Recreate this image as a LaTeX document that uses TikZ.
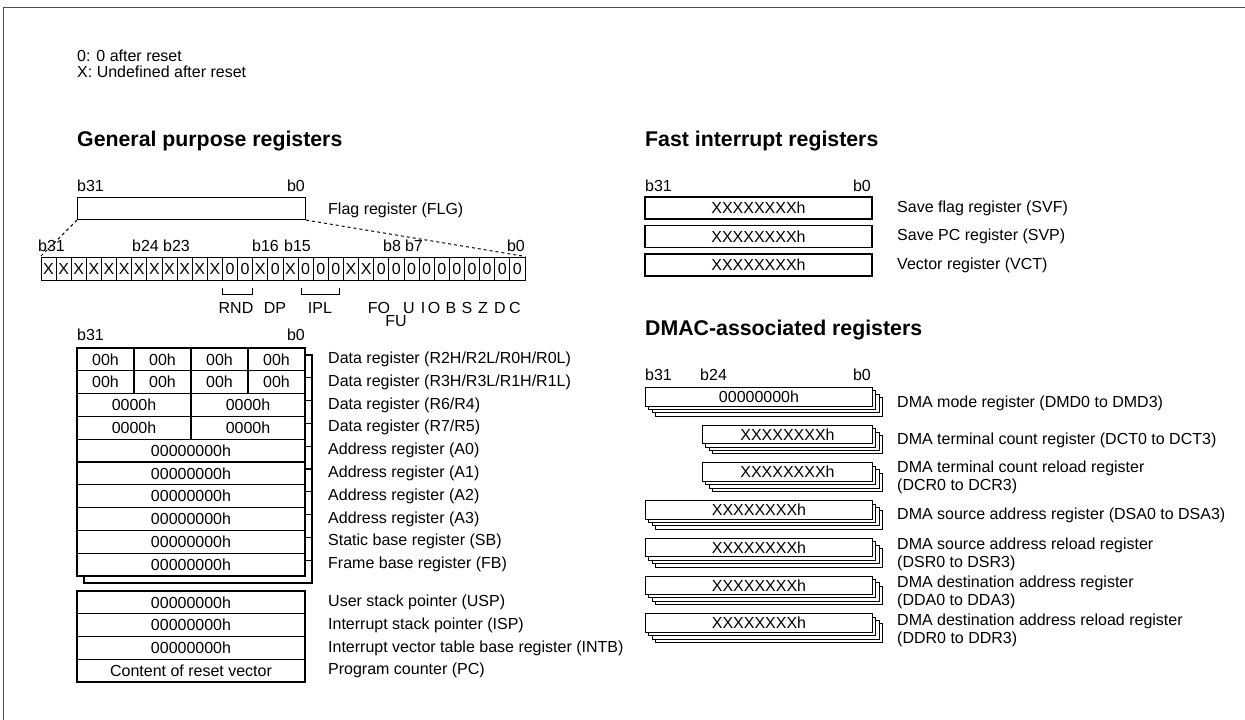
\documentclass[tikz,border=0pt]{standalone}
\usepackage{fontspec}
\setmainfont{Liberation Sans}

\def\rowh{22.8}
\def\bitw{15.125}

% one bank of general purpose registers (#2 = show values or not)
\newcommand{\gprbank}[2]{%
  \foreach \r in {0,1}
    \foreach \c in {0,...,3}
      \node[reg, minimum width=57pt] (#1b\r\c) at (77+57*\c+28.5, 348+\rowh*\r+\rowh/2) {#2{00h}};
  \foreach \r in {2,3}
    \foreach \c in {0,1}
      \node[reg, minimum width=114pt] (#1w\r\c) at (77+114*\c+57, 348+\rowh*\r+\rowh/2) {#2{0000h}};
  \foreach \r in {4,...,9}
    \node[reg, minimum width=228pt] (#1l\r) at (191, 348+\rowh*\r+\rowh/2) {#2{00000000h}};
}
\newcommand{\shownum}[1]{#1}
\newcommand{\hidenum}[1]{}

% four channel copies of a DMAC register
\newcommand{\dmastack}[5]{%
  \foreach \k in {3,2,1}
    \node[dma, minimum width=#4pt] (#1s\k) at (#2+3.4*\k, #3+3.4*\k) {};
  \node[dma, minimum width=#4pt] (#1) at (#2,#3) {#5};
}

\begin{document}
\begin{tikzpicture}[x=1pt,y=-1pt,font=\fontsize{16}{18}\selectfont]
    \tikzstyle{reg}=[draw,fill=white,line width=1.1pt,inner sep=0pt,minimum height=\rowh pt]
    \tikzstyle{bit}=[draw,fill=white,line width=1pt,inner sep=0pt,minimum width=\bitw pt,minimum height=23pt]
    \tikzstyle{dma}=[draw,fill=white,line width=1pt,inner sep=0pt,minimum height=18.5pt,anchor=north west]
    \tikzstyle{lbl}=[anchor=west,inner sep=0pt,align=left]
    \tikzstyle{bitno}=[inner sep=0pt]
    \tikzstyle{head}=[anchor=west,inner sep=0pt,font=\fontsize{21.3}{24}\selectfont\bfseries]

    \useasboundingbox (0,0) rectangle (1245,720);
    \draw[black!70,line width=1pt] (3,720) -- (3,7) -- (1245,7);

    % Legend
    \node[lbl] (key0) at (77,56) {0: 0 after reset};
    \node[lbl] (keyx) at (77,72) {X: Undefined after reset};

    % Headings
    \node[head] (hgpr) at (77,141) {General purpose registers};
    \node[head] (hfast) at (645,141) {Fast interrupt registers};
    \node[head] (hdmac) at (645,330) {DMAC-associated registers};

    % Flag register and its bits
    \node[bitno,anchor=west] (flg31) at (77,186) {b31};
    \node[bitno,anchor=east] (flg0) at (305,186) {b0};
    \node[reg,minimum width=228pt,minimum height=22pt,anchor=north west] (flg) at (77,197) {};
    \node[lbl] (lflg) at (328,210) {Flag register (FLG)};

    \foreach \v [count=\i from 0] in {X,X,X,X,X,X,X,X,X,X,X,X,0,0,X,0,X,0,0,0,X,X,0,0,0,0,0,0,0,0,0,0}
      \node[bit] (f\i) at (41+\bitw*\i+\bitw/2, 268.5) {\v};

    \draw[dashed,line width=1pt] (flg.south west) -- (f0.north west);
    \draw[dashed,line width=1pt] (flg.south east) -- (f31.north east);

    \node[bitno,anchor=west] (n31) at (38,246) {b31};
    \node[bitno,anchor=west] (n24) at (132,246) {b24};
    \node[bitno,anchor=east] (n23) at (190,246) {b23};
    \node[bitno,anchor=west] (n16) at (252,246) {b16};
    \node[bitno,anchor=east] (n15) at (311,246) {b15};
    \node[bitno,anchor=west] (n8) at (383,246) {b8};
    \node[bitno,anchor=east] (n7) at (423,246) {b7};
    \node[bitno,anchor=east] (n0) at (525,246) {b0};

    \draw[line width=1pt] (222,288) |- (252,294) -- (252,288);
    \draw[line width=1pt] (301,288) |- (339,294) -- (339,288);
    \node[bitno] (frnd) at (236,308) {RND};
    \node[bitno] (fdp) at (275,308) {DP};
    \node[bitno] (fipl) at (320,308) {IPL};
    \node[bitno] (ffo) at (379,308) {FO};
    \node[bitno] (ffu) at (396,321) {FU};
    \foreach \t/\x in {U/409,I/423,O/434,B/451,S/467,Z/483,D/500,C/515}
      \node[bitno] (f\t) at (\x,308) {\t};

    % General purpose registers, bank 1 behind bank 0
    \node[bitno,anchor=west] (g31) at (77,335) {b31};
    \node[bitno,anchor=east] (g0) at (305,335) {b0};
    \begin{scope}[shift={(7,7)}]
      \gprbank{k}{\hidenum}
    \end{scope}
    \gprbank{g}{\shownum}

    \foreach \t [count=\i from 0] in {Data register (R2H/R2L/R0H/R0L),Data register (R3H/R3L/R1H/R1L),
        Data register (R6/R4),Data register (R7/R5),Address register (A0),Address register (A1),
        Address register (A2),Address register (A3),Static base register (SB),Frame base register (FB)}
      \node[lbl] (lg\i) at (328, 348+\rowh*\i+\rowh/2) {\t};

    % Stack pointers, INTB and PC
    \foreach \v/\t [count=\i from 0] in {00000000h/User stack pointer (USP),00000000h/Interrupt stack pointer (ISP),
        00000000h/Interrupt vector table base register (INTB),Content of reset vector/Program counter (PC)} {
      \node[reg,minimum width=228pt,minimum height=22.75pt] (sp\i) at (191, 591+22.75*\i+11.4) {\v};
      \node[lbl] (lsp\i) at (328, 591+22.75*\i+11.4) {\t};
    }

    % Fast interrupt registers
    \node[bitno,anchor=west] (q31) at (645,186) {b31};
    \node[bitno,anchor=east] (q0) at (871,186) {b0};
    \foreach \t/\y [count=\i from 0] in {Save flag register (SVF)/208,Save PC register (SVP)/236.5,Vector register (VCT)/265} {
      \node[reg,minimum width=227pt,minimum height=22pt] (fi\i) at (758.5,\y) {XXXXXXXXh};
      \node[lbl] (lfi\i) at (897,\y) {\t};
    }

    % DMAC-associated registers
    \node[bitno,anchor=west] (d31) at (645,375) {b31};
    \node[bitno,anchor=west] (d24) at (700,375) {b24};
    \node[bitno,anchor=east] (d0) at (871,375) {b0};
    \dmastack{dmd}{645}{387}{227}{00000000h}
    \dmastack{dct}{702}{424.7}{170}{XXXXXXXXh}
    \dmastack{dcr}{702}{462.4}{170}{XXXXXXXXh}
    \dmastack{dsa}{645}{500.1}{227}{XXXXXXXXh}
    \dmastack{dsr}{645}{537.8}{227}{XXXXXXXXh}
    \dmastack{dda}{645}{575.5}{227}{XXXXXXXXh}
    \dmastack{ddr}{645}{613.2}{227}{XXXXXXXXh}

    \node[lbl] (ldmd) at (897,403) {DMA mode register (DMD0 to DMD3)};
    \node[lbl] (ldct) at (897,440) {DMA terminal count register (DCT0 to DCT3)};
    \node[lbl] (ldcr) at (897,477) {DMA terminal count reload register\\(DCR0 to DCR3)};
    \node[lbl] (ldsa) at (897,515) {DMA source address register (DSA0 to DSA3)};
    \node[lbl] (ldsr) at (897,554) {DMA source address reload register\\(DSR0 to DSR3)};
    \node[lbl] (ldda) at (897,592) {DMA destination address register\\(DDA0 to DDA3)};
    \node[lbl] (lddr) at (897,630) {DMA destination address reload register\\(DDR0 to DDR3)};
\end{tikzpicture}
\end{document}
